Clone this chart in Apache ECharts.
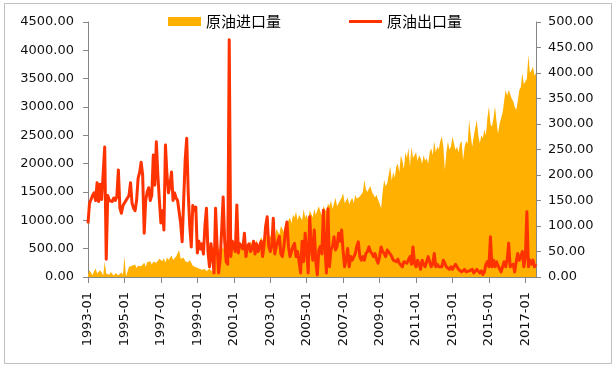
<!DOCTYPE html>
<html><head><meta charset="utf-8">
<script src="https://cdn.jsdelivr.net/npm/echarts@6/dist/echarts.min.js"></script>
<style>html,body{margin:0;padding:0;background:#fff}#c{width:616px;height:369px}</style>
</head><body><div id="c"></div>
<script>
const startYear = 1993;
const monthCount = 296; // 1993-01 .. 2017-08
const seriesNames = ['原油进口量', '原油出口量'];

// 原油进口量 (left axis), by year
const imp1993 = [50, 120, 140, 30, 100, 150, 60, 40, 120, 80, 20, 270];
const imp1994 = [60, 80, 40, 90, 60, 20, 70, 50, 30, 60, 80, 40];
const imp1995 = [360, 10, 20, 180, 150, 200, 170, 220, 160, 200, 230, 190];
const imp1996 = [210, 250, 180, 260, 240, 280, 220, 270, 300, 250, 280, 320];
const imp1997 = [300, 280, 330, 250, 350, 300, 280, 380, 300, 330, 360, 420];
const imp1998 = [476, 320, 300, 340, 280, 300, 260, 300, 250, 200, 180, 170];
const imp1999 = [160, 150, 170, 130, 120, 140, 100, 130, 150, 110, 140, 120];
const imp2000 = [300, 650, 500, 450, 550, 480, 600, 500, 450, 520, 480, 550];
const imp2001 = [600, 520, 650, 580, 620, 550, 500, 600, 560, 500, 580, 620];
const imp2002 = [580, 520, 600, 650, 550, 620, 700, 650, 600, 700, 680, 750];
const imp2003 = [700, 800, 750, 650, 850, 800, 750, 900, 850, 800, 950, 880];
const imp2004 = [1000, 1050, 950, 1100, 1050, 1150, 1000, 1100, 1050, 1000, 1200, 1050];
const imp2005 = [1100, 1000, 1180, 1150, 1050, 1200, 1100, 1180, 1250, 1150, 1100, 1250];
const imp2006 = [1200, 1150, 1300, 1250, 1350, 1200, 1300, 1400, 1250, 1300, 1350, 1400];
const imp2007 = [1480, 1300, 1350, 1400, 1280, 1350, 1400, 1300, 1450, 1380, 1350, 1420];
const imp2008 = [1450, 1500, 1710, 1550, 1500, 1560, 1600, 1500, 1450, 1400, 1450, 1360];
const imp2009 = [1300, 1210, 1500, 1710, 1600, 1650, 1800, 1950, 1700, 1850, 1750, 1950];
const imp2010 = [2000, 1850, 2150, 2050, 1900, 2200, 2100, 2270, 1950, 2300, 2100, 2150];
const imp2011 = [2200, 2050, 2150, 2100, 2000, 2150, 2050, 2100, 2000, 2200, 2270, 2150];
const imp2012 = [2390, 2200, 2300, 2250, 2400, 2480, 2300, 1890, 2200, 2390, 2250, 2300];
const imp2013 = [2480, 2350, 2240, 2300, 2200, 2350, 2400, 2060, 2300, 2400, 2350, 2770];
const imp2014 = [2500, 2300, 2480, 2450, 2770, 2500, 2360, 2500, 2450, 2600, 2500, 2800];
const imp2015 = [3010, 2700, 2650, 2800, 3010, 2750, 2530, 2700, 2800, 2900, 3100, 3300];
const imp2016 = [3200, 3300, 3270, 3150, 3100, 3000, 2950, 3100, 3300, 3350, 3600, 3400];
const imp2017 = [3370, 3500, 3920, 3600, 3650, 3710, 3550, 3600];

// 原油出口量 (right axis), by year
const exp1993 = [105, 145, 152, 160, 165, 150, 185, 148, 182, 152, 150, 255];
const exp1994 = [35, 160, 150, 152, 148, 155, 150, 158, 210, 135, 125, 140];
const exp1995 = [142, 150, 152, 160, 185, 145, 135, 130, 150, 194, 205, 225];
const exp1996 = [200, 86, 150, 167, 175, 150, 160, 239, 180, 265, 200, 150];
const exp1997 = [106, 130, 92, 259, 200, 165, 180, 206, 150, 165, 155, 150];
const exp1998 = [150, 106, 69, 150, 230, 272, 165, 100, 59, 140, 130, 137];
const exp1999 = [47, 70, 55, 65, 45, 100, 135, 50, 20, 65, 40, 8];
const exp2000 = [135, 60, 8, 33, 90, 157, 70, 30, 25, 465, 40, 70];
const exp2001 = [70, 50, 141, 47, 65, 66, 55, 86, 40, 60, 65, 50];
const exp2002 = [55, 70, 45, 65, 50, 60, 70, 40, 65, 100, 118, 60];
const exp2003 = [50, 60, 115, 45, 60, 70, 80, 45, 40, 60, 90, 108];
const exp2004 = [60, 40, 50, 60, 66, 40, 50, 30, 8, 70, 30, 86];
const exp2005 = [50, 8, 118, 60, 33, 92, 30, 4, 53, 60, 45, 131];
const exp2006 = [60, 8, 134, 20, 53, 60, 79, 53, 60, 86, 70, 92];
const exp2007 = [50, 20, 35, 56, 20, 40, 33, 35, 46, 60, 69, 40];
const exp2008 = [33, 40, 33, 46, 50, 59, 50, 46, 40, 46, 35, 27];
const exp2009 = [40, 59, 50, 46, 40, 53, 56, 45, 40, 33, 35, 30];
const exp2010 = [35, 27, 25, 20, 30, 33, 27, 30, 40, 25, 59, 27];
const exp2011 = [20, 33, 25, 15, 33, 25, 20, 20, 40, 30, 20, 25];
const exp2012 = [46, 20, 25, 20, 20, 20, 33, 30, 20, 20, 15, 20];
const exp2013 = [15, 20, 25, 20, 15, 15, 10, 8, 15, 10, 8, 12];
const exp2014 = [10, 15, 8, 10, 15, 12, 8, 12, 5, 10, 25, 30];
const exp2015 = [20, 79, 20, 33, 20, 30, 22, 20, 10, 8, 30, 20];
const exp2016 = [33, 66, 20, 20, 25, 10, 30, 46, 33, 40, 50, 20];
const exp2017 = [40, 128, 20, 33, 25, 33, 20, 25];

const imports = [].concat(imp1993, imp1994, imp1995, imp1996, imp1997, imp1998, imp1999, imp2000,
  imp2001, imp2002, imp2003, imp2004, imp2005, imp2006, imp2007, imp2008, imp2009, imp2010,
  imp2011, imp2012, imp2013, imp2014, imp2015, imp2016, imp2017);
const exportsArr = [].concat(exp1993, exp1994, exp1995, exp1996, exp1997, exp1998, exp1999, exp2000,
  exp2001, exp2002, exp2003, exp2004, exp2005, exp2006, exp2007, exp2008, exp2009, exp2010,
  exp2011, exp2012, exp2013, exp2014, exp2015, exp2016, exp2017);

const categories = [];
for (let i = 0; i < monthCount; i++) {
  const y = startYear + Math.floor(i / 12), m = (i % 12) + 1;
  categories.push(y + '-' + (m < 10 ? '0' + m : m));
}

const FONT = 'DejaVu Sans';
const axisGray = '#868686';
const chart = echarts.init(document.getElementById('c'), null, {renderer: 'canvas'});
chart.setOption({
  animation: false,
  textStyle: {fontFamily: FONT},
  graphic: [{type: 'rect', shape: {x: 4.5, y: 3.5, width: 607, height: 360},
    style: {fill: 'none', stroke: '#bfbfbf', lineWidth: 1}, silent: true}],
  legend: {
    top: 9, left: 163, itemGap: 68, itemWidth: 33, itemHeight: 9,
    textStyle: {fontFamily: 'Noto Sans CJK SC', fontSize: 15, color: '#000'},
    data: [
      {name: seriesNames[0], icon: 'rect'},
      {name: seriesNames[1], icon: 'path://M0,0 H33 V3 H0 Z'}
    ]
  },
  grid: {left: 88, right: 80, top: 22, bottom: 92, containLabel: false},
  xAxis: {
    type: 'category', data: categories, boundaryGap: false,
    axisLine: {lineStyle: {color: axisGray}},
    axisTick: {interval: 23, length: 6, lineStyle: {color: axisGray}},
    axisLabel: {interval: 23, rotate: 90, margin: 15, fontSize: 13, color: '#111', fontFamily: FONT},
    splitLine: {show: false}
  },
  yAxis: [
    {type: 'value', min: 0, max: 4500, interval: 500,
     axisLine: {show: true, lineStyle: {color: axisGray}},
     axisTick: {show: true, length: 5, lineStyle: {color: axisGray}},
     axisLabel: {formatter: v => v.toFixed(2), fontSize: 13, color: '#111', margin: 14, fontFamily: FONT},
     splitLine: {show: false}},
    {type: 'value', min: 0, max: 500, interval: 50, position: 'right',
     axisLine: {show: true, lineStyle: {color: axisGray}},
     axisTick: {show: true, length: 5, lineStyle: {color: axisGray}},
     axisLabel: {formatter: v => v.toFixed(2), fontSize: 13, color: '#111', margin: 12, fontFamily: FONT},
     splitLine: {show: false}}
  ],
  series: [
    {name: seriesNames[0], type: 'line', yAxisIndex: 0, data: imports, symbol: 'none',
     itemStyle: {color: '#ffb000'}, lineStyle: {width: 0},
     areaStyle: {color: '#ffb000', opacity: 1}},
    {name: seriesNames[1], type: 'line', yAxisIndex: 1, data: exportsArr, symbol: 'none',
     itemStyle: {color: '#ff3300'}, lineStyle: {width: 3, color: '#ff3300', join: 'round'}}
  ]
});
</script></body></html>
